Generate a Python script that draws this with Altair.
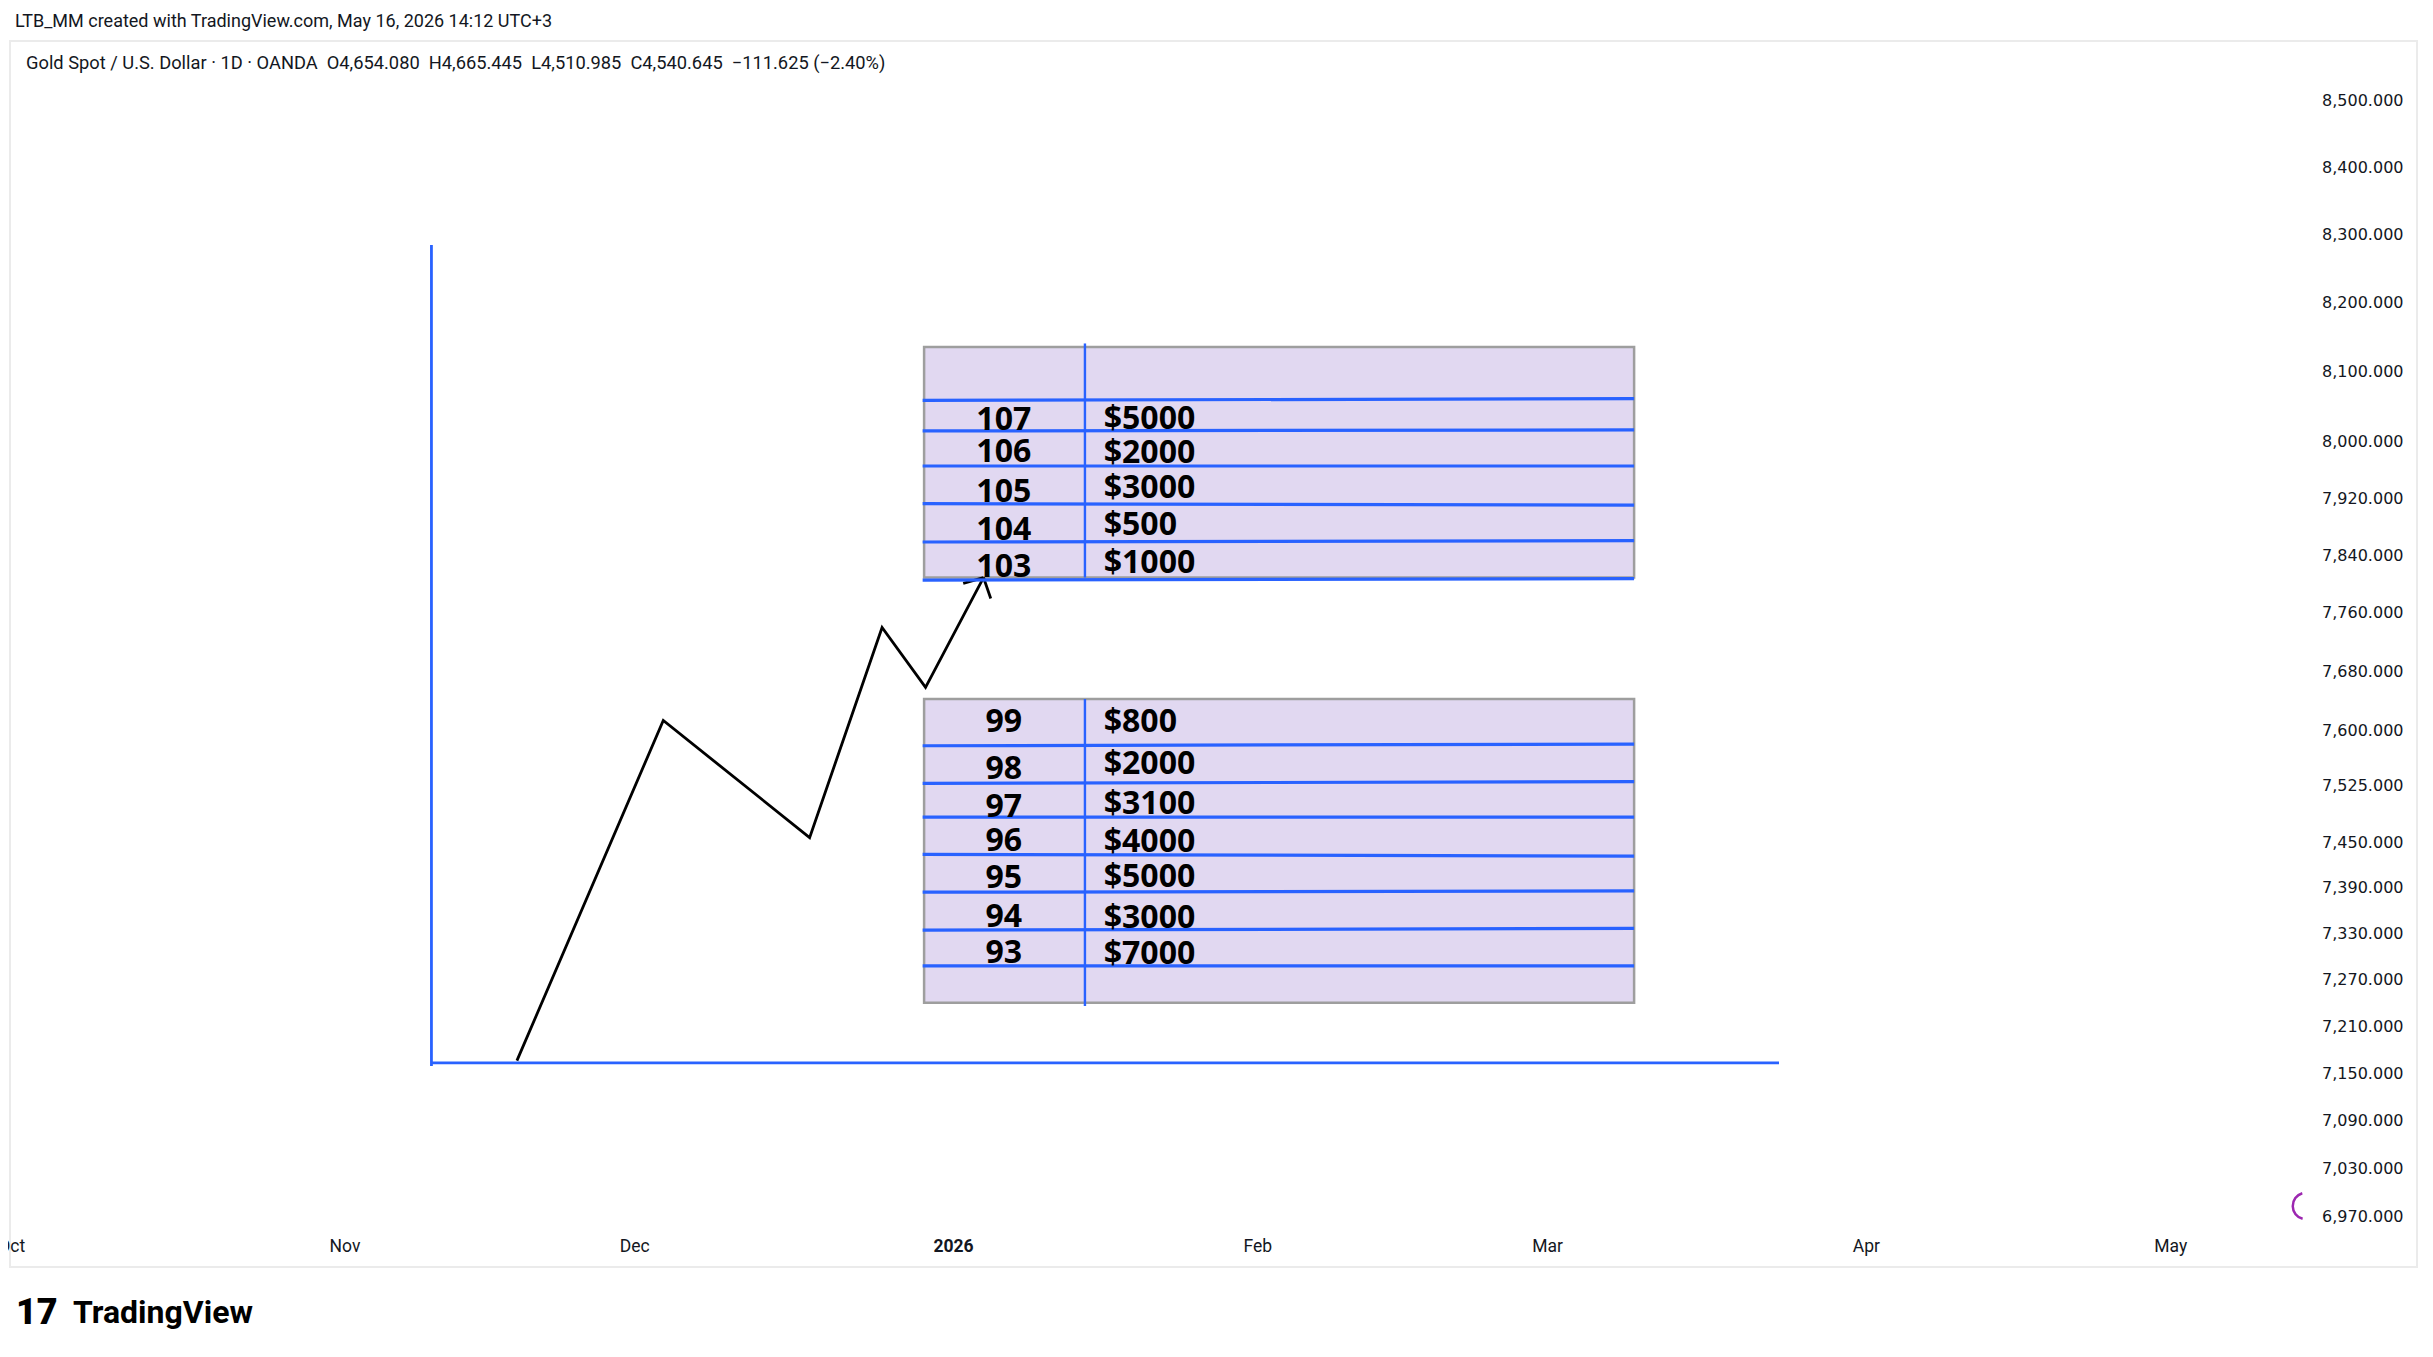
import altair as alt
import pandas as pd

# ---------------- axis data ----------------
# x: trading-day (bar) index, 0 = first bar of Nov 2025
month_ticks = [-23, 0, 20, 42, 63, 83, 105, 126]
month_labels = ["Oct", "Nov", "Dec", "2026", "Feb", "Mar", "Apr", "May"]
price_ticks = [8500, 8400, 8300, 8200, 8100, 8000, 7920, 7840, 7760, 7680, 7600,
               7525, 7450, 7390, 7330, 7270, 7210, 7150, 7090, 7030, 6970]

# ---------------- drawings ----------------
# blue L-shaped guide (vertical + horizontal)
guide_bar1 = [6.0, 6.0]
guide_bar2 = [6.0, 99.0]
guide_p1 = [7159, 7163]
guide_p2 = [8285, 7163]

# black zig-zag path
zig_bar = [11.9, 22.0, 32.1, 37.1, 40.1, 44.1]
zig_price = [7166, 7613, 7456, 7740, 7658, 7809]
# arrow head wings (from last zig-zag point)
wing_bar = [42.7, 44.6]
wing_price = [7801, 7780]

# two tables
table_left = [40.0, 40.0]
table_right = [89.0, 89.0]
table_top = [8136, 7642]
table_bottom = [7809, 7240]
divider_bar = [51.1, 51.1]
divider_top = [8141, 7642]
divider_bottom = [7809, 7236]

# blue row lines (price at left end, price at right end)
row_line_left = [8059.0, 8015.3, 7965.5, 7912.3, 7858.5, 7805.5,
                 7578.8, 7528.3, 7483.2, 7433.8, 7383.9, 7334.3, 7287.7]
row_line_right = [8061.5, 8016.7, 7965.5, 7910.3, 7860.5, 7807.5,
                  7581.1, 7530.6, 7483.2, 7431.5, 7385.7, 7336.5, 7287.7]
row_line_x1 = 39.9
row_line_x2 = 89.0

# table rows
levels = ["107", "106", "105", "104", "103", "99", "98", "97", "96", "95", "94", "93"]
amounts = ["$5000", "$2000", "$3000", "$500", "$1000",
           "$800", "$2000", "$3100", "$4000", "$5000", "$3000", "$7000"]
level_base = [8016.2, 7970.8, 7915.1, 7861.8, 7810.3,
              7596.8, 7534.2, 7483.2, 7438.3, 7388.8, 7338.5, 7291.9]
amount_base = [8018.7, 7969.9, 7920.8, 7868.9, 7814.8,
               7596.8, 7540.8, 7487.5, 7436.8, 7390.8, 7336.5, 7290.3]
level_bar = 45.5
amount_bar = 52.4

header1 = "LTB_MM created with TradingView.com, May 16, 2026 14:12 UTC+3"
header2 = ("Gold Spot / U.S. Dollar \u00b7 1D \u00b7 OANDA \u00a0O4,654.080 \u00a0H4,665.445 "
           "\u00a0L4,510.985 \u00a0C4,540.645 \u00a0\u2212111.625 (\u22122.40%)")

# ---------------- scales / axes ----------------
BLUE = "#2962ff"
TXT = "#131722"

x_scale = alt.Scale(domain=[-23.085, 143.03], nice=False, zero=False)
y_scale = alt.Scale(type="log", domain=[6907.7, 8591.0], nice=False)

label_expr = ("[" + ",".join("'%s'" % m for m in month_labels) + "][indexof(["
              + ",".join(str(t) for t in month_ticks) + "], datum.value)]")

x_axis = alt.Axis(values=month_ticks, labelExpr=label_expr, orient="bottom", offset=-21,
                  domain=False, ticks=False, tickSize=0, grid=False, labelPadding=0,
                  labelBaseline="middle", labelFont="Roboto", labelFontSize=17.5,
                  labelColor=TXT, labelFlush=False, labelOverlap=False, title=None,
                  labelFontWeight={"condition": {"test": "datum.value == 42", "value": "bold"},
                                   "value": "normal"})
y_axis = alt.Axis(values=price_ticks, format=",.3f", orient="right", offset=-14,
                  domain=False, ticks=False, tickSize=0, grid=False, labelPadding=0,
                  labelAlign="right", labelBaseline="middle", labelFont="DejaVu Sans",
                  labelFontSize=16, labelColor=TXT, labelOverlap=False, title=None)


def X(f):
    return alt.X(f, type="quantitative", scale=x_scale, axis=x_axis)


def Y(f):
    return alt.Y(f, type="quantitative", scale=y_scale, axis=y_axis)


# ---------------- layers ----------------
tables = alt.Chart(pd.DataFrame({"x1": table_left, "x2": table_right,
                                 "y1": table_top, "y2": table_bottom})).mark_rect(
    fill="#e1d8f1", stroke="#9e9e9e", strokeWidth=2.5, opacity=1
).encode(x=X("x1"), x2=alt.X2("x2"), y=Y("y1"), y2=alt.Y2("y2"))

guides = alt.Chart(pd.DataFrame({"x1": guide_bar1, "x2": guide_bar2,
                                 "y1": guide_p1, "y2": guide_p2})).mark_rule(
    color=BLUE, strokeWidth=2.8
).encode(x=X("x1"), x2=alt.X2("x2"), y=Y("y1"), y2=alt.Y2("y2"))

zig = alt.Chart(pd.DataFrame({"bar": zig_bar, "price": zig_price,
                              "o": list(range(len(zig_bar)))})).mark_line(
    color="black", strokeWidth=2.8
).encode(x=X("bar"), y=Y("price"), order="o:Q")

arrow = alt.Chart(pd.DataFrame({"x1": [zig_bar[-1]] * len(wing_bar), "x2": wing_bar,
                                "y1": [zig_price[-1]] * len(wing_bar), "y2": wing_price})).mark_rule(
    color="black", strokeWidth=2.8
).encode(x=X("x1"), x2=alt.X2("x2"), y=Y("y1"), y2=alt.Y2("y2"))

rows = alt.Chart(pd.DataFrame({"x1": [row_line_x1] * len(row_line_left),
                               "x2": [row_line_x2] * len(row_line_left),
                               "y1": row_line_left, "y2": row_line_right})).mark_rule(
    color=BLUE, strokeWidth=3.2
).encode(x=X("x1"), x2=alt.X2("x2"), y=Y("y1"), y2=alt.Y2("y2"))

dividers = alt.Chart(pd.DataFrame({"x1": divider_bar, "y1": divider_top,
                                   "y2": divider_bottom})).mark_rule(
    color=BLUE, strokeWidth=2.4
).encode(x=X("x1"), y=Y("y1"), y2=alt.Y2("y2"))

level_text = alt.Chart(pd.DataFrame({"bar": [level_bar] * len(levels), "price": level_base,
                                     "t": levels})).mark_text(
    align="center", baseline="alphabetic", font="Open Sans", fontSize=32,
    fontWeight="bold", color="black"
).encode(x=X("bar"), y=Y("price"), text="t:N")

amount_text = alt.Chart(pd.DataFrame({"bar": [amount_bar] * len(amounts), "price": amount_base,
                                      "t": amounts})).mark_text(
    align="left", baseline="alphabetic", font="Open Sans", fontSize=32,
    fontWeight="bold", color="black"
).encode(x=X("bar"), y=Y("price"), text="t:N")

one = pd.DataFrame({"k": [0]})
h1 = alt.Chart(one).mark_text(align="left", baseline="middle", font="Roboto",
                              fontSize=18, color=TXT, text=header1).encode(
    x=alt.value(5), y=alt.value(-19))
h2 = alt.Chart(one).mark_text(align="left", baseline="middle", font="Roboto",
                              fontSize=18.3, color=TXT, text=header2).encode(
    x=alt.value(16), y=alt.value(23))
logo_mark = alt.Chart(one).mark_text(align="left", baseline="middle", font="Roboto",
                                     fontSize=36, fontWeight=900, color="black",
                                     text="17").encode(x=alt.value(6), y=alt.value(1272))
logo_txt = alt.Chart(one).mark_text(align="left", baseline="middle", font="Roboto",
                                    fontSize=32, fontWeight="bold", color="black",
                                    text="TradingView").encode(x=alt.value(63), y=alt.value(1272))
spinner = alt.Chart(one).mark_arc(innerRadius=12, outerRadius=14.5, theta=3.4, theta2=6.0,
                                  color="#9c27b0").encode(x=alt.value(2296), y=alt.value(1165))

chart = alt.layer(
    tables, guides, zig, arrow, rows, dividers, level_text, amount_text,
    h1, h2, logo_mark, logo_txt, spinner
).properties(
    width=2407, height=1226,
    padding={"left": 2, "top": 33, "right": 8, "bottom": 80},
    autosize="none", background="white"
).configure_view(stroke="#ebebeb", strokeWidth=2)

chart.save("out.html", embed_options={"renderer": "svg", "actions": False})
